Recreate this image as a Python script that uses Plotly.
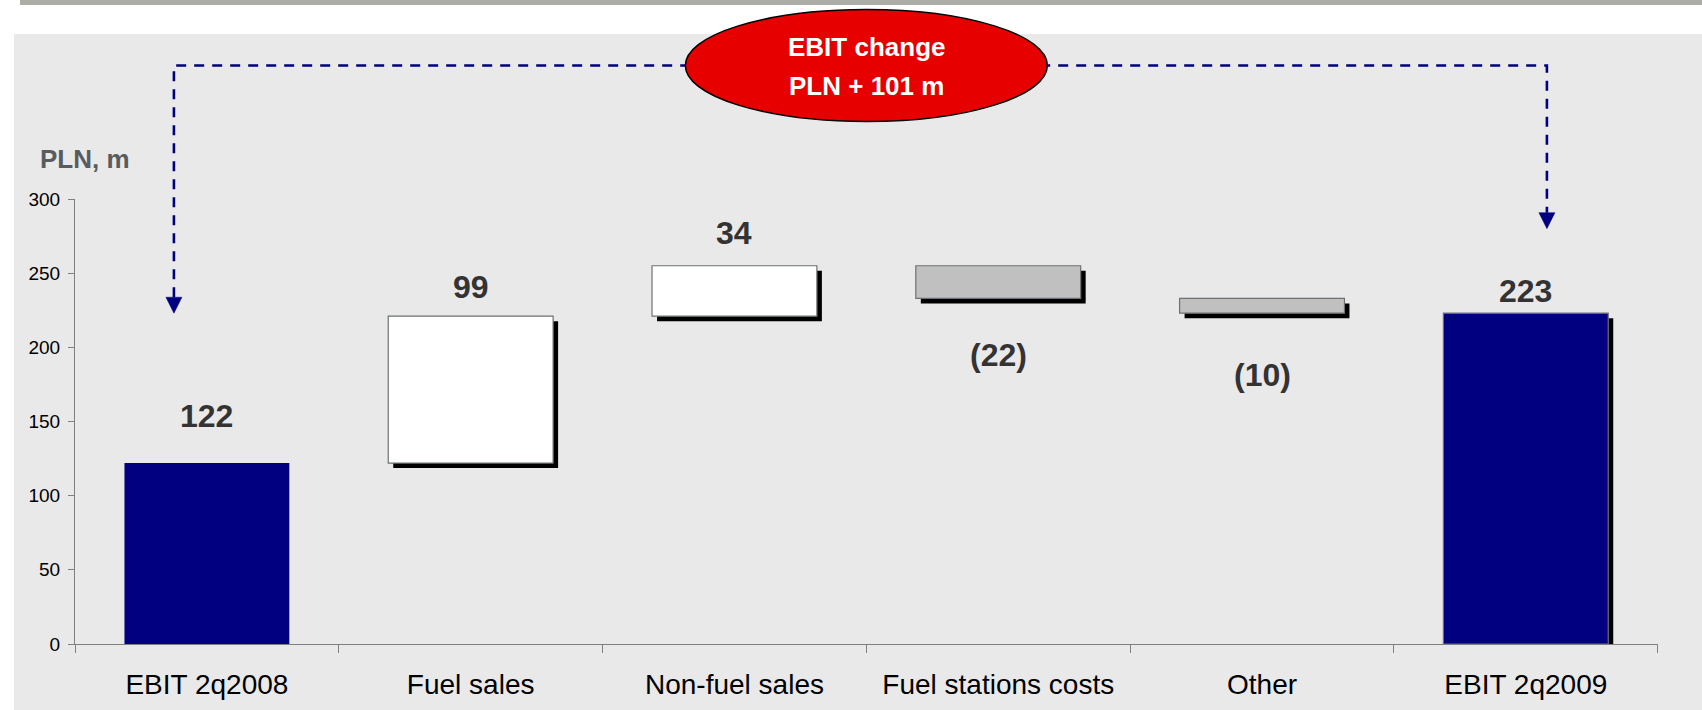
import plotly.graph_objects as go

# ---------------- data ----------------
categories = ["EBIT 2q2008", "Fuel sales", "Non-fuel sales",
              "Fuel stations costs", "Other", "EBIT 2q2009"]
values = [122, 99, 34, -22, -10, 223]
measures = ["absolute", "relative", "relative", "relative", "relative", "total"]
label_texts = ["122", "99", "34", "(22)", "(10)", "223"]
y_ticks = [0, 50, 100, 150, 200, 250, 300]
unit_label = "PLN, m"
change_lines = ["EBIT change", "PLN + 101 m"]

# connector annotation (value / category units)
connector_level = 390
connector_x = [-0.125, 5.08]
arrow_tips = [223, 280]
ellipse_center = (2.5, 390)

# ---------------- styles / layout constants ----------------
W, H = 1702, 710
X_DOM = [75 / W, 1657.7 / W]
Y_DOM = [(H - 644) / H, (H - 199) / H]
Y_RANGE = [0, 300]
X_RANGE = [-0.5, 5.5]
NAVY = "#000080"
WHITE = "#FFFFFF"
GREY = "#C0C0C0"
BORDER = "#6E7173"
LABEL_COLOR = "#333333"
FONT = "Liberation Sans, Arial, sans-serif"
BAR_W = 0.625
SHADOW_PX = 5
label_offsets_px = [47, 29, 33, -57, -62, 22]

px_per_cat = (X_DOM[1] - X_DOM[0]) * W / (X_RANGE[1] - X_RANGE[0])
px_per_val = (Y_DOM[1] - Y_DOM[0]) * H / (Y_RANGE[1] - Y_RANGE[0])

# ---------------- waterfall geometry ----------------
bases, heights, colors, borders, shadows = [], [], [], [], []
running = 0
for v, m in zip(values, measures):
    if m == "absolute":
        b, h = 0, v
        running = v
        col = NAVY
    elif m == "total":
        b, h = 0, v
        col = NAVY
    else:
        if v >= 0:
            b, h = running, v
            col = WHITE
        else:
            b, h = running + v, -v
            col = GREY
        running += v
    bases.append(b)
    heights.append(h)
    colors.append(col)
for i in range(len(values)):
    borders.append(0 if i == 0 else 1.2)
    shadows.append("rgba(0,0,0,0)" if i == 0 else "#000000")

dy = SHADOW_PX / px_per_val
dx = SHADOW_PX / px_per_cat

fig = go.Figure()

# shadows
fig.add_trace(go.Bar(
    x=categories, y=heights, base=[b - dy for b in bases],
    width=BAR_W, offset=-BAR_W / 2 + dx,
    marker=dict(color=shadows, line=dict(width=0)),
    hoverinfo="skip", showlegend=False))

# main bars
fig.add_trace(go.Bar(
    x=categories, y=heights, base=bases,
    width=BAR_W, offset=-BAR_W / 2,
    marker=dict(color=colors, line=dict(color=BORDER, width=borders)),
    hoverinfo="skip", showlegend=False))

# value labels
for i, (txt, v) in enumerate(zip(label_texts, values)):
    anchor_y = bases[i] + heights[i] if (v >= 0) else bases[i]
    fig.add_annotation(
        x=categories[i], y=anchor_y, xref="x", yref="y",
        text="<b>%s</b>" % txt, showarrow=False,
        yshift=label_offsets_px[i], yanchor="middle",
        font=dict(family=FONT, size=32, color=LABEL_COLOR))

# ---------------- overlay decoration subplot (same scale) ----------------
span = Y_DOM[1] - Y_DOM[0]
y2_lo = Y_RANGE[0] - Y_DOM[0] * (Y_RANGE[1] - Y_RANGE[0]) / span
y2_hi = y2_lo + (Y_RANGE[1] - Y_RANGE[0]) / span

arrow_h = 16 / px_per_val
arrow_hw = 8 / px_per_cat

fig.add_trace(go.Scatter(
    x=[connector_x[0], connector_x[0], connector_x[1], connector_x[1]],
    y=[arrow_tips[0] + arrow_h, connector_level, connector_level, arrow_tips[1] + arrow_h],
    mode="lines", line=dict(color=NAVY, width=2.6, dash="10px,8px"),
    xaxis="x2", yaxis="y2", hoverinfo="skip", showlegend=False))

for cx, tip in zip(connector_x, arrow_tips):
    fig.add_trace(go.Scatter(
        x=[cx - arrow_hw, cx + arrow_hw, cx, cx - arrow_hw],
        y=[tip + arrow_h, tip + arrow_h, tip, tip + arrow_h],
        mode="lines", fill="toself", fillcolor=NAVY,
        line=dict(color=NAVY, width=0.5),
        xaxis="x2", yaxis="y2", hoverinfo="skip", showlegend=False))

ell_rx = 181 / px_per_cat
ell_ry = 56 / px_per_val
fig.add_shape(type="circle", xref="x2", yref="y2",
              x0=ellipse_center[0] - ell_rx, x1=ellipse_center[0] + ell_rx,
              y0=ellipse_center[1] - ell_ry, y1=ellipse_center[1] + ell_ry,
              fillcolor="#E60000", line=dict(color="#000000", width=1.5),
              layer="above")
for txt, shift in zip(change_lines, [19, -20]):
    fig.add_annotation(x=ellipse_center[0], y=ellipse_center[1], xref="x2", yref="y2",
                       text="<b>%s</b>" % txt, showarrow=False, yshift=shift,
                       font=dict(family=FONT, size=26, color="#FFFFFF"))

# unit label
fig.add_annotation(x=38 / W, y=(H - 159) / H, xref="paper", yref="paper",
                   text="<b>%s</b>" % unit_label, showarrow=False,
                   xanchor="left", yanchor="middle",
                   font=dict(family=FONT, size=26, color="#585C5F"))

# background panels
fig.add_shape(type="rect", xref="paper", yref="paper", x0=14 / W, x1=1, y0=0, y1=(H - 34) / H,
              fillcolor="#E9E9E9", line=dict(width=0), layer="below")
fig.add_shape(type="rect", xref="paper", yref="paper", x0=20 / W, x1=1, y0=(H - 5) / H, y1=1,
              fillcolor="#ADADA8", line=dict(width=0), layer="below")

fig.update_layout(
    width=W, height=H,
    margin=dict(l=0, r=0, t=0, b=0, pad=0, autoexpand=False),
    paper_bgcolor="#FFFFFF", plot_bgcolor="rgba(0,0,0,0)",
    barmode="overlay", showlegend=False,
    font=dict(family=FONT, color="#000000"),
    xaxis=dict(domain=X_DOM, range=X_RANGE, type="category",
               categoryorder="array", categoryarray=categories,
               tickson="boundaries", ticks="outside", ticklen=8, tickcolor="#808080",
               showline=True, linecolor="#808080", linewidth=1, automargin=False,
               showgrid=False, zeroline=False, ticklabelstandoff=15,
               tickfont=dict(family=FONT, size=28, color="#000000")),
    yaxis=dict(domain=Y_DOM, range=Y_RANGE, tickvals=y_ticks,
               ticks="outside", ticklen=6, tickcolor="#808080",
               showline=True, linecolor="#808080", linewidth=1, automargin=False,
               showgrid=False, zeroline=False, ticklabelstandoff=4,
               tickfont=dict(family=FONT, size=19, color="#000000")),
    xaxis2=dict(domain=X_DOM, range=X_RANGE, anchor="y2", visible=False,
                automargin=False, showgrid=False, zeroline=False),
    yaxis2=dict(domain=[0, 1], range=[y2_lo, y2_hi], anchor="x2", visible=False,
                automargin=False, showgrid=False, zeroline=False),
)

fig.write_html("out.html", config={"displayModeBar": False},
               post_script="document.body.style.margin='0';document.body.style.overflow='hidden';")
